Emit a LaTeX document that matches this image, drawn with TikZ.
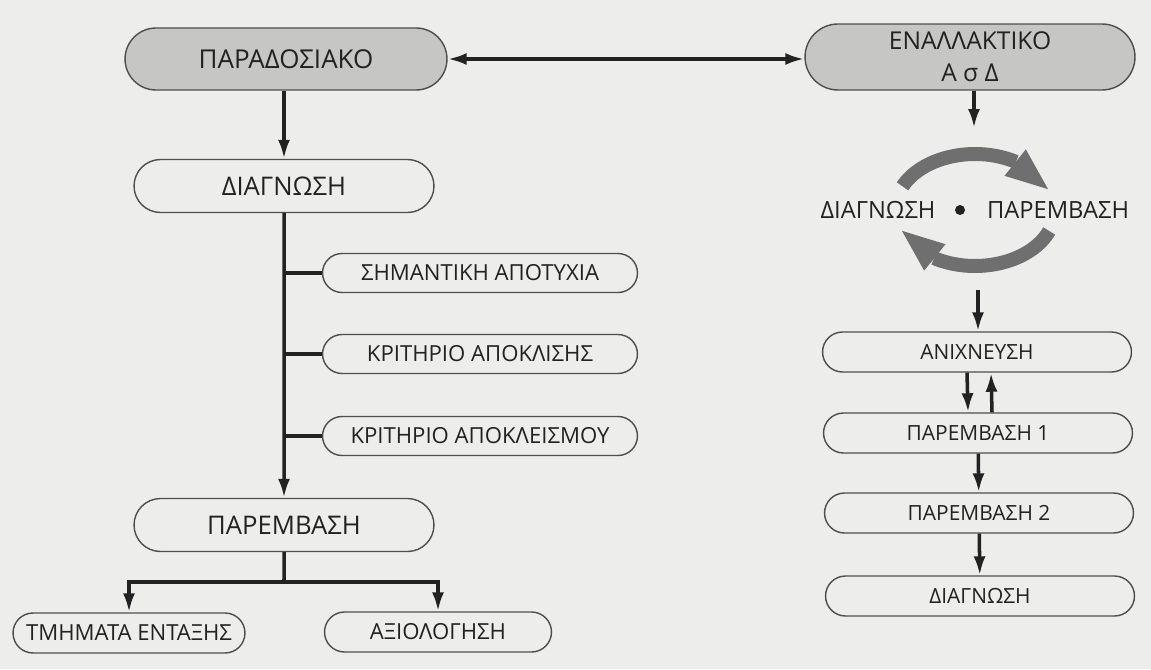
\documentclass[tikz,border=0pt]{standalone}
\usepackage{fontspec}
\setmainfont{Open Sans}
\usetikzlibrary{arrows.meta,bending,shapes.misc}
\definecolor{paper}{HTML}{EDEDEB}
\definecolor{ink}{HTML}{222222}
\definecolor{capfill}{HTML}{C6C6C4}
\definecolor{cyclegray}{HTML}{6F6F6F}
\begin{document}
\begin{tikzpicture}[x=0.02cm, y=-0.02cm,
	>={Latex[length=3.8mm,width=2.4mm]},
	link/.style={draw=ink, line width=2pt},
	box/.style={rounded rectangle, draw=ink!80, line width=0.8pt, text=ink, inner sep=0pt},
	headbox/.style={box, fill=capfill, font=\fontsize{14.8}{17}\selectfont},
	bigbox/.style={box, minimum width=6cm, minimum height=1.06cm, font=\fontsize{14.6}{17}\selectfont},
	midbox/.style={box, minimum width=6.3cm, minimum height=0.78cm, font=\fontsize{12.6}{15}\selectfont},
	rightbox/.style={box, minimum width=6.18cm, minimum height=0.8cm, font=\fontsize{11.9}{14}\selectfont},
	lowbox/.style={box, minimum height=0.8cm, font=\fontsize{12.6}{15}\selectfont},
	cycletext/.style={text=ink, inner sep=0pt, font=\fontsize{13.5}{16}\selectfont},
	cyclearrow/.style={draw=cyclegray, line width=0.28cm, -{Triangle[length=9mm,width=6mm,flex]}}]
	\fill[paper] (0,0) rectangle (1151,669);
	\useasboundingbox (0,0) rectangle (1151,669);
	
	%the two approaches
	\node[headbox, minimum width=6.44cm, minimum height=1.24cm] (trad) at (286,59) {ΠΑΡΑΔΟΣΙΑΚΟ};
	\node[headbox, minimum width=6.6cm, minimum height=1.32cm, align=center, font=\fontsize{14}{17}\selectfont] (alt) at (970,57) {ΕΝΑΛΛΑΚΤΙΚΟ\\[1pt]Α σ Δ};
	\draw[link, <->] (trad.east) -- (trad.east -| alt.west);
	
	%traditional path
	\node[bigbox] (diagL) at (284,186) {ΔΙΑΓΝΩΣΗ};
	\draw[link, ->] (trad.south -| diagL.north) -- (diagL.north);
	\node[bigbox] (intL) at (284,525) {ΠΑΡΕΜΒΑΣΗ};
	\draw[link, ->] (diagL) -- (intL);
	\foreach \name/\y/\txt in {fail/273/ΣΗΜΑΝΤΙΚΗ ΑΠΟΤΥΧΙΑ, disc/354/ΚΡΙΤΗΡΙΟ ΑΠΟΚΛΙΣΗΣ, excl/436/ΚΡΙΤΗΡΙΟ ΑΠΟΚΛΕΙΣΜΟΥ}{
		\node[midbox] (\name) at (480,\y) {\txt};
		\draw[link] (\name.west -| diagL.south) -- (\name.west);
	}
	\coordinate (fork) at (284,582);
	\node[lowbox, minimum width=4.64cm] (units) at (129,633) {ΤΜΗΜΑΤΑ ΕΝΤΑΞΗΣ};
	\node[lowbox, minimum width=4.54cm] (eval) at (438,632) {ΑΞΙΟΛΟΓΗΣΗ};
	\draw[link] (intL) -- (fork);
	\draw[link, ->] (fork) -| (units.north);
	\draw[link, ->] (fork) -| (eval.north);
	
	%alternative path
	\coordinate (cyctop) at (974,128);
	\draw[link, ->] (alt.south -| cyctop) -- (cyctop);
	\coordinate (cyc) at (975,210);
	\draw[cyclearrow] (cyc) ++(155:1.6cm and 1.12cm) arc[start angle=155, end angle=20, x radius=1.6cm, y radius=1.12cm];
	\draw[cyclearrow] (cyc) ++(-22:1.6cm and 1.12cm) arc[start angle=-22, end angle=-160, x radius=1.6cm, y radius=1.12cm];
	\node[cycletext] (cdiag) at (878,210) {ΔΙΑΓΝΩΣΗ};
	\node[circle, fill=ink, inner sep=0pt, minimum size=0.2cm] (cdot) at (960,210) {};
	\node[cycletext] (cint) at (1058,210) {ΠΑΡΕΜΒΑΣΗ};
	\coordinate (cycbot) at (978,290);
	
	\node[rightbox] (detect) at (977,352) {ΑΝΙΧΝΕΥΣΗ};
	\node[rightbox] (int1) at (978,433) {ΠΑΡΕΜΒΑΣΗ 1};
	\node[rightbox] (int2) at (979,513) {ΠΑΡΕΜΒΑΣΗ 2};
	\node[rightbox] (diagR) at (980,596) {ΔΙΑΓΝΩΣΗ};
	\draw[link, ->] (cycbot) -- (cycbot |- detect.north);
	\draw[link, ->] ([xshift=-0.2cm]detect.south) -- ([xshift=-0.2cm]int1.north);
	\draw[link, ->] ([xshift=0.28cm]int1.north) -- ([xshift=0.28cm]detect.south);
	\draw[link, ->] (int1) -- (int2);
	\draw[link, ->] (int2) -- (diagR);
\end{tikzpicture}
\end{document}
